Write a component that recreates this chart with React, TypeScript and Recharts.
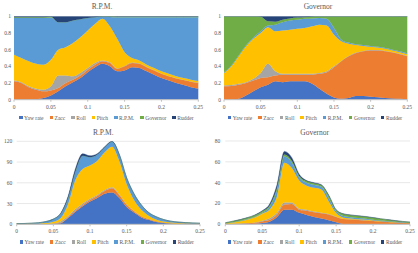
import React from 'react';
import { AreaChart, Area, XAxis, YAxis, CartesianGrid, Legend } from 'recharts';

const FONT = '"Liberation Serif","Times New Roman",serif';

const xValues = [0, 0.01, 0.02, 0.03, 0.04, 0.05, 0.06, 0.07, 0.08, 0.09, 0.1, 0.11, 0.12, 0.13, 0.14, 0.15, 0.16, 0.17, 0.18, 0.19, 0.2, 0.21, 0.22, 0.23, 0.24, 0.25];
const seriesNames = ['Yaw rate', 'Zacc', 'Roll', 'Pitch', 'R.P.M.', 'Governor', 'Rudder'];
const seriesKeys = ['yaw', 'zacc', 'roll', 'pitch', 'rpm', 'gov', 'rud'];
const seriesColors = ['#4472C4', '#ED7D31', '#A5A5A5', '#FFC000', '#5B9BD5', '#70AD47', '#264478'];
const xTicks = [0, 0.05, 0.1, 0.15, 0.2, 0.25];
const fracTicks = [0, 0.2, 0.4, 0.6, 0.8, 1];
const rpmTicks = [0, 30, 60, 90, 120];
const govTicks = [0, 20, 40, 60, 80];

// Top-left: R.P.M. (share)
const tlYaw = [0, 0, 0, 0.005, 0.02, 0.05, 0.10, 0.16, 0.21, 0.26, 0.33, 0.39, 0.43, 0.40, 0.34, 0.35, 0.39, 0.38, 0.34, 0.30, 0.26, 0.23, 0.20, 0.175, 0.15, 0.13];
const tlZacc = [0.22, 0.20, 0.15, 0.115, 0.08, 0.06, 0.04, 0.04, 0.03, 0.03, 0.03, 0.03, 0.03, 0.04, 0.03, 0.05, 0.05, 0.05, 0.05, 0.05, 0.05, 0.05, 0.055, 0.06, 0.065, 0.07];
const tlRoll = [0.01, 0.01, 0.01, 0.01, 0.02, 0.05, 0.15, 0.09, 0.04, 0.03, 0.02, 0.02, 0.01, 0.01, 0.005, 0.005, 0.005, 0.003, 0.002, 0.002, 0.002, 0.002, 0.002, 0.002, 0.002, 0.002];
const tlPitch = [0.31, 0.29, 0.30, 0.30, 0.30, 0.32, 0.31, 0.34, 0.40, 0.43, 0.45, 0.47, 0.50, 0.43, 0.355, 0.165, 0.055, 0.037, 0.028, 0.028, 0.028, 0.028, 0.023, 0.023, 0.023, 0.023];
const tlRpm = [0.44, 0.48, 0.52, 0.55, 0.56, 0.505, 0.33, 0.30, 0.27, 0.215, 0.15, 0.08, 0.025, 0.113, 0.26, 0.42, 0.49, 0.52, 0.57, 0.61, 0.65, 0.68, 0.71, 0.73, 0.75, 0.765];
const tlGov = [0.01, 0.01, 0.01, 0.01, 0.01, 0.01, 0, 0, 0, 0, 0, 0, 0.002, 0.004, 0.005, 0.005, 0.005, 0.005, 0.005, 0.005, 0.005, 0.005, 0.005, 0.005, 0.005, 0.005];
const tlRud = [0.01, 0.01, 0.01, 0.01, 0.01, 0.005, 0.07, 0.07, 0.05, 0.035, 0.02, 0.01, 0.003, 0.003, 0.005, 0.005, 0.005, 0.005, 0.005, 0.005, 0.005, 0.005, 0.005, 0.005, 0.005, 0.005];

// Top-right: Governor (share)
const trYaw = [0, 0, 0.01, 0.05, 0.10, 0.15, 0.18, 0.22, 0.21, 0.22, 0.22, 0.22, 0.19, 0.13, 0.07, 0.025, 0.01, 0.02, 0.045, 0.045, 0.035, 0.03, 0.02, 0.015, 0.01, 0.005];
const trZacc = [0.16, 0.165, 0.17, 0.15, 0.13, 0.11, 0.09, 0.07, 0.09, 0.08, 0.08, 0.08, 0.11, 0.18, 0.26, 0.365, 0.45, 0.50, 0.515, 0.535, 0.555, 0.56, 0.56, 0.55, 0.535, 0.515];
const trRoll = [0.01, 0.01, 0.01, 0.01, 0.02, 0.06, 0.16, 0.05, 0.01, 0.01, 0.01, 0.01, 0.01, 0.01, 0.01, 0.01, 0.005, 0.005, 0.005, 0.005, 0.005, 0.005, 0.005, 0.005, 0.005, 0.005];
const trPitch = [0.15, 0.225, 0.33, 0.43, 0.48, 0.48, 0.44, 0.48, 0.52, 0.53, 0.54, 0.55, 0.57, 0.58, 0.55, 0.38, 0.235, 0.145, 0.09, 0.06, 0.04, 0.03, 0.025, 0.02, 0.02, 0.02];
const trRpm = [0.01, 0.01, 0.01, 0.01, 0.015, 0.02, 0.02, 0.08, 0.10, 0.11, 0.11, 0.11, 0.095, 0.08, 0.08, 0.08, 0.02, 0.015, 0.01, 0.01, 0.01, 0.01, 0.01, 0.01, 0.01, 0.01];
const trGov = [0.667, 0.587, 0.467, 0.347, 0.252, 0.175, 0.05, 0.035, 0.03, 0.025, 0.025, 0.02, 0.02, 0.017, 0.027, 0.137, 0.277, 0.312, 0.332, 0.342, 0.352, 0.362, 0.377, 0.397, 0.417, 0.442];
const trRud = [0.003, 0.003, 0.003, 0.003, 0.003, 0.005, 0.06, 0.065, 0.04, 0.025, 0.015, 0.01, 0.005, 0.003, 0.003, 0.003, 0.003, 0.003, 0.003, 0.003, 0.003, 0.003, 0.003, 0.003, 0.003, 0.003];

// Bottom-left: R.P.M. (absolute)
const blYaw = [0, 0, 0, 0, 0.1, 0.4, 1.5, 9, 18, 26, 33, 38, 44, 46, 38, 25, 17, 10, 6.5, 3.5, 2, 1.2, 0.8, 0.5, 0.4, 0.3];
const blZacc = [0.2, 0.2, 0.2, 0.25, 0.3, 0.4, 0.6, 1.5, 2, 2, 2, 3, 4, 6, 4, 3, 2, 1.5, 1, 0.8, 0.5, 0.3, 0.3, 0.2, 0.2, 0.15];
const blRoll = [0, 0, 0, 0.02, 0.1, 0.4, 2, 1.5, 2, 2, 2, 1.5, 1.5, 1.5, 1, 0.5, 0.3, 0.2, 0.1, 0, 0, 0, 0, 0, 0, 0];
const blPitch = [0.3, 0.35, 0.5, 0.7, 1.2, 2.5, 5, 17, 42, 50, 48, 49.5, 54.5, 58.5, 48, 29.5, 15.7, 9.3, 4.9, 2.7, 1.5, 1, 0.6, 0.4, 0.3, 0.25];
const blRpm = [0.45, 0.6, 0.85, 1.3, 2.3, 3.8, 6, 9, 12, 19, 12, 9, 7.5, 7.5, 9.5, 9, 9, 7, 4.5, 4, 3, 2, 1.5, 1.3, 1, 0.8];
const blGov = [0.03, 0.03, 0.03, 0.03, 0.03, 0.03, 0.03, 0.03, 0.03, 0.03, 0.03, 0.03, 0.03, 0.03, 0.03, 0.03, 0.03, 0.03, 0.03, 0.03, 0.03, 0.03, 0.03, 0.03, 0.03, 0.03];
const blRud = [0.02, 0.02, 0.02, 0.03, 0.05, 0.1, 1, 2, 4, 3, 2, 1, 0.5, 0.5, 0.5, 0.2, 0.1, 0.05, 0.05, 0.05, 0.05, 0.05, 0.05, 0.05, 0.05, 0.05];

// Bottom-right: Governor (absolute)
const brYaw = [0, 0, 0, 0.2, 0.5, 1.2, 2.5, 7, 14, 14, 11, 9, 7, 5.5, 4, 2, 0.3, 0.1, 0.2, 0.3, 0.3, 0.2, 0.15, 0.1, 0.05, 0];
const brZacc = [0.2, 0.4, 0.6, 0.8, 1, 1.5, 1.8, 2.5, 5, 5.5, 3, 4, 4.5, 5, 5.5, 5, 4.8, 4.6, 4, 3.4, 2.9, 2.5, 2.1, 1.7, 1.4, 1.2];
const brRoll = [0.05, 0.1, 0.1, 0.2, 0.3, 0.8, 1.5, 1.5, 2, 1.5, 1, 1, 0.8, 0.7, 0.5, 0.3, 0.1, 0.1, 0.1, 0.1, 0, 0, 0, 0, 0, 0];
const brPitch = [0.4, 1.2, 2.2, 3.4, 5, 6.8, 8.5, 16, 38, 33, 27, 23, 22.7, 22.3, 12, 3.5, 1.2, 0.8, 0.6, 0.5, 0.4, 0.3, 0.25, 0.2, 0.15, 0.1];
const brRpm = [0.1, 0.2, 0.3, 0.4, 0.5, 0.7, 2.2, 6, 6, 5, 3, 3, 3, 2.5, 3, 1.5, 1.5, 1.2, 1.1, 1, 0.8, 0.6, 0.5, 0.4, 0.3, 0.2];
const brGov = [0.7, 1, 1.2, 1.3, 1.4, 1.5, 1.5, 2, 2, 2, 1.5, 1.5, 1.5, 1.5, 2.5, 1.5, 2, 2, 2, 2, 1.9, 1.7, 1.4, 1.1, 0.8, 0.6];
const brRud = [0.05, 0.1, 0.1, 0.2, 0.3, 0.5, 1.5, 3, 3, 3, 1.5, 0.5, 0.5, 0.5, 0.5, 0.2, 0.2, 0.2, 0.2, 0.2, 0.2, 0.1, 0.1, 0.1, 0.1, 0.1];

function build(arrs: number[][]) {
  return xValues.map((x, i) => {
    const row: any = { x };
    seriesKeys.forEach((k, j) => {
      row[k] = arrs[j][i];
    });
    return row;
  });
}

const tlData = build([tlYaw, tlZacc, tlRoll, tlPitch, tlRpm, tlGov, tlRud]);
const trData = build([trYaw, trZacc, trRoll, trPitch, trRpm, trGov, trRud]);
const blData = build([blYaw, blZacc, blRoll, blPitch, blRpm, blGov, blRud]);
const brData = build([brYaw, brZacc, brRoll, brPitch, brRpm, brGov, brRud]);

const LegendRow = ({ shift }: { shift: number }) => (
  <div
    style={{
      display: 'flex',
      justifyContent: 'center',
      alignItems: 'center',
      fontFamily: FONT,
      fontSize: 5.5,
      color: '#595959',
      whiteSpace: 'nowrap',
      lineHeight: '6px',
      paddingLeft: shift,
    }}
  >
    {seriesNames.map((n, i) => (
      <div key={n} style={{ display: 'flex', alignItems: 'center', marginRight: i < 6 ? 6 : 0 }}>
        <div style={{ width: 3.5, height: 3.5, background: seriesColors[i], marginRight: 1.5 }} />
        <span>{n}</span>
      </div>
    ))}
  </div>
);

type PanelProps = {
  left: number;
  top: number;
  data: any[];
  domain: number[];
  ticks: number[];
  title: string;
  titleX: number;
  legendX: number;
  legendY: number;
  plotTop: number;
  plotRight: number;
  plotBottom: number;
  yWidth: number;
  yMargin: number;
  grid: boolean;
};

function Panel(p: PanelProps) {
  const tickStyle = { fontSize: 5.5, fill: '#595959', fontFamily: FONT };
  return (
    <div style={{ position: 'absolute', left: p.left, top: p.top, width: 209, height: 126 }}>
      <div
        style={{
          position: 'absolute',
          left: p.titleX - 50,
          width: 100,
          top: 2.5,
          textAlign: 'center',
          fontFamily: FONT,
          fontSize: 7.5,
          lineHeight: '8px',
          color: '#595959',
          zIndex: 2,
        }}
      >
        {p.title}
      </div>
      <AreaChart
        width={209}
        height={126}
        data={p.data}
        margin={{ top: p.plotTop, right: p.plotRight, bottom: p.plotBottom, left: 0 }}
      >
        {p.grid && <CartesianGrid vertical={false} stroke="#d9d9d9" strokeWidth={0.6} />}
        <XAxis
          dataKey="x"
          type="number"
          domain={[0, 0.25]}
          ticks={xTicks}
          interval={0}
          height={12}
          tickSize={2}
          tickMargin={3}
          stroke="#bfbfbf"
          tick={tickStyle}
        />
        <YAxis
          type="number"
          domain={p.domain}
          ticks={p.ticks}
          interval={0}
          width={p.yWidth}
          axisLine={false}
          tickLine={false}
          tickSize={0}
          tickMargin={p.yMargin}
          allowDataOverflow
          tick={tickStyle}
        />
        <Legend
          layout="horizontal"
          verticalAlign="middle"
          align="center"
          wrapperStyle={{ position: 'absolute', top: p.legendY - 3, left: 0, width: 209 }}
          content={() => <LegendRow shift={(p.legendX - 104.5) * 2} />}
        />
        {seriesKeys.map((k, j) => (
          <Area
            key={k}
            type="monotone"
            dataKey={k}
            name={seriesNames[j]}
            stackId="s"
            fill={seriesColors[j]}
            fillOpacity={1}
            stroke={seriesColors[j]}
            strokeWidth={0.4}
            dot={false}
            activeDot={false}
            isAnimationActive={false}
          />
        ))}
      </AreaChart>
    </div>
  );
}

export default function App() {
  return (
    <div style={{ position: 'absolute', left: 0, top: 0, width: 418, height: 253, background: '#fff', overflow: 'hidden' }}>
      <Panel left={0} top={0} data={tlData} domain={[0, 1]} ticks={fracTicks} title="R.P.M." titleX={102} legendX={106.3} legendY={117.7}
        plotTop={16.3} plotRight={10.7} plotBottom={14.3} yWidth={14} yMargin={3} grid={false} />
      <Panel left={209} top={0} data={trData} domain={[0, 1]} ticks={fracTicks} title="Governor" titleX={109} legendX={106} legendY={117.7}
        plotTop={16.3} plotRight={10.7} plotBottom={14.3} yWidth={15} yMargin={3} grid={false} />
      <Panel left={0} top={126} data={blData} domain={[0, 120]} ticks={rpmTicks} title="R.P.M." titleX={103.3} legendX={106.7} legendY={116}
        plotTop={15.3} plotRight={9} plotBottom={15.7} yWidth={16.7} yMargin={4.5} grid={true} />
      <Panel left={209} top={126} data={brData} domain={[0, 80]} ticks={govTicks} title="Governor" titleX={105.7} legendX={106} legendY={116}
        plotTop={15} plotRight={8} plotBottom={15.7} yWidth={16.3} yMargin={5} grid={true} />
    </div>
  );
}
